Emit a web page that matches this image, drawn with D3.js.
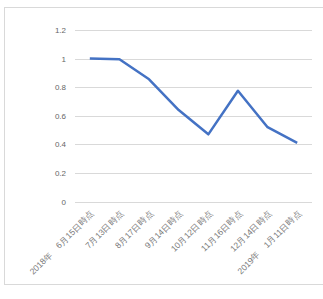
<!DOCTYPE html>
<html>
<head>
<meta charset="utf-8">
<script src="https://cdn.jsdelivr.net/npm/d3@7"></script>
<style>
  body { margin: 0; background: #fff; }
  svg { display: block; font-family: "Noto Sans CJK JP", "Noto Sans", sans-serif; }
</style>
</head>
<body>
<div id="chart-area"></div>
<script>
const categories = [
  "2018年　6月15日時点",
  "7月13日時点",
  "8月17日時点",
  "9月14日時点",
  "10月12日時点",
  "11月16日時点",
  "12月14日時点",
  "2019年　1月11日時点"
]
const values = [1.0, 0.995, 0.855, 0.64, 0.47, 0.775, 0.52, 0.41]
const yTicks = [0, 0.2, 0.4, 0.6, 0.8, 1, 1.2]

const W = 323, H = 299
const PLOT = { LEFT: 75, RIGHT: 312, TOP: 30, BOTTOM: 201.5 }

const svg = d3.select("#chart-area").append("svg")
  .attr("width", W)
  .attr("height", H)

// chart border
svg.append("rect")
  .attr("x", 4.5)
  .attr("y", 7.5)
  .attr("width", 340)
  .attr("height", 277)
  .attr("fill", "none")
  .attr("stroke", "#d9d9d9")

const x = d3.scaleBand()
  .domain(categories)
  .range([PLOT.LEFT, PLOT.RIGHT])

const y = d3.scaleLinear()
  .domain([0, 1.2])
  .range([PLOT.BOTTOM, PLOT.TOP])

// gridlines
svg.append("g")
  .selectAll("line")
  .data(yTicks)
  .enter().append("line")
  .attr("x1", PLOT.LEFT)
  .attr("x2", PLOT.RIGHT)
  .attr("y1", d => Math.round(y(d)) + 0.5)
  .attr("y2", d => Math.round(y(d)) + 0.5)
  .attr("stroke", "#d9d9d9")
  .attr("stroke-width", 1)

// y axis labels
const yAxis = svg.append("g")
  .attr("transform", `translate(${PLOT.LEFT - 9}, 0)`)
  .call(d3.axisLeft(y).tickValues(yTicks).tickSize(0).tickPadding(0).tickFormat(d => String(d)))
yAxis.select(".domain").remove()
yAxis.selectAll("text")
  .attr("fill", "#666")
  .attr("font-size", "8px")

// x axis labels
const xAxis = svg.append("g")
  .attr("transform", `translate(0, ${PLOT.BOTTOM})`)
  .call(d3.axisBottom(x).tickSize(0).tickPadding(0))
xAxis.select(".domain").remove()
xAxis.selectAll("text")
  .attr("fill", "#777")
  .attr("font-size", "8.5px")
  .attr("text-anchor", "end")
  .attr("dy", "0")
  .attr("transform", "translate(5, 12) rotate(-45)")

// line
const line = d3.line()
  .x((d, i) => x(categories[i]) + x.bandwidth() / 2)
  .y(d => y(d))

svg.append("path")
  .datum(values)
  .attr("fill", "none")
  .attr("stroke", "#4472c4")
  .attr("stroke-width", 2.5)
  .attr("stroke-linejoin", "round")
  .attr("d", line)
</script>
</body>
</html>
